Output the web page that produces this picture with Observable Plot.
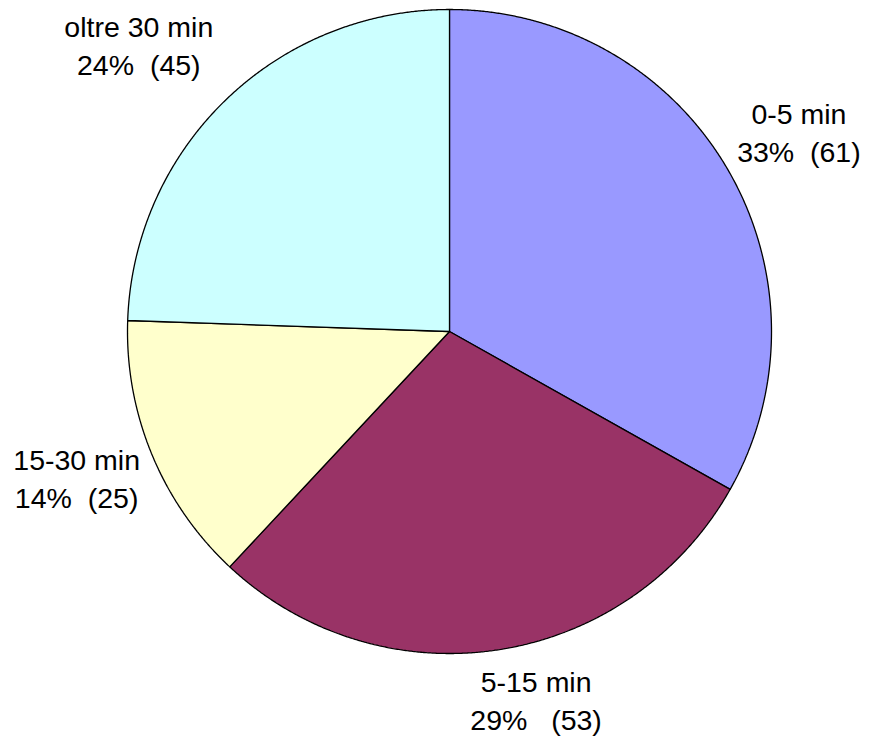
<!DOCTYPE html>
<html>
<head>
<meta charset="utf-8">
<script src="https://cdn.jsdelivr.net/npm/d3@7"></script>
<script src="https://cdn.jsdelivr.net/npm/@observablehq/plot@0.6"></script>
<style>
  html, body { margin: 0; padding: 0; background: #fff; }
  #chart { width: 869px; height: 742px; }
</style>
</head>
<body>
<div id="chart"></div>
<script>
// ---- data ----
const categories = ["0-5 min", "5-15 min", "15-30 min", "oltre 30 min"];
const values = [61, 53, 25, 45];
const colors = ["#9999FF", "#993366", "#FFFFCC", "#CCFFFF"];
const separators = ["\u00a0\u00a0", "\u00a0\u00a0\u00a0", "\u00a0\u00a0", "\u00a0\u00a0"];

// ---- layout ----
const W = 869, H = 742;
const cx = 449, cy = 331, R = 322;          // pie centre and radius in pixels
const labelRadius = 1.25;                   // label distance, in radii
const labelNudge = [[2, 3], [25, -30], [-1, -9], [-31, 2]]; // pixel nudges

const total = d3.sum(values);
const pie = d3.pie().sort(null).value(d => d)(values);

// slice outlines in unit coordinates (radius 1, y up, clockwise from top)
const slicePts = [];
pie.forEach((p, i) => {
  slicePts.push({cat: categories[i], x: 0, y: 0});
  const n = Math.max(2, Math.ceil((p.endAngle - p.startAngle) / (Math.PI / 720)));
  for (let k = 0; k <= n; k++) {
    const a = p.startAngle + (p.endAngle - p.startAngle) * k / n;
    slicePts.push({cat: categories[i], x: Math.sin(a), y: Math.cos(a)});
  }
});

const labels = pie.map((p, i) => {
  const a = (p.startAngle + p.endAngle) / 2;
  const pct = Math.round(values[i] / total * 100);
  return {
    cat: categories[i],
    x: labelRadius * Math.sin(a) + labelNudge[i][0] / R,
    y: labelRadius * Math.cos(a) - labelNudge[i][1] / R,
    text: `${categories[i]}\n${pct}%${separators[i]}(${values[i]})`
  };
});

const chart = Plot.plot({
  width: W,
  height: H,
  margin: 0,
  style: {fontFamily: "'Liberation Sans', Arial, sans-serif", background: "#fff", color: "#000"},
  x: {domain: [-cx / R, (W - cx) / R], range: [0, W], axis: null},
  y: {domain: [-(H - cy) / R, cy / R], range: [H, 0], axis: null},
  color: {domain: categories, range: colors},
  marks: [
    Plot.line(slicePts, {
      x: "x", y: "y", z: "cat", fill: "cat",
      stroke: "#000", strokeWidth: 1.3, curve: "linear-closed", strokeLinejoin: "miter"
    }),
    Plot.text(labels, {
      x: "x", y: "y", text: "text",
      fontSize: 28.5, lineHeight: 1.33, textAnchor: "middle", lineAnchor: "middle", fill: "#000"
    })
  ]
});
document.getElementById("chart").appendChild(chart);
</script>
</body>
</html>
